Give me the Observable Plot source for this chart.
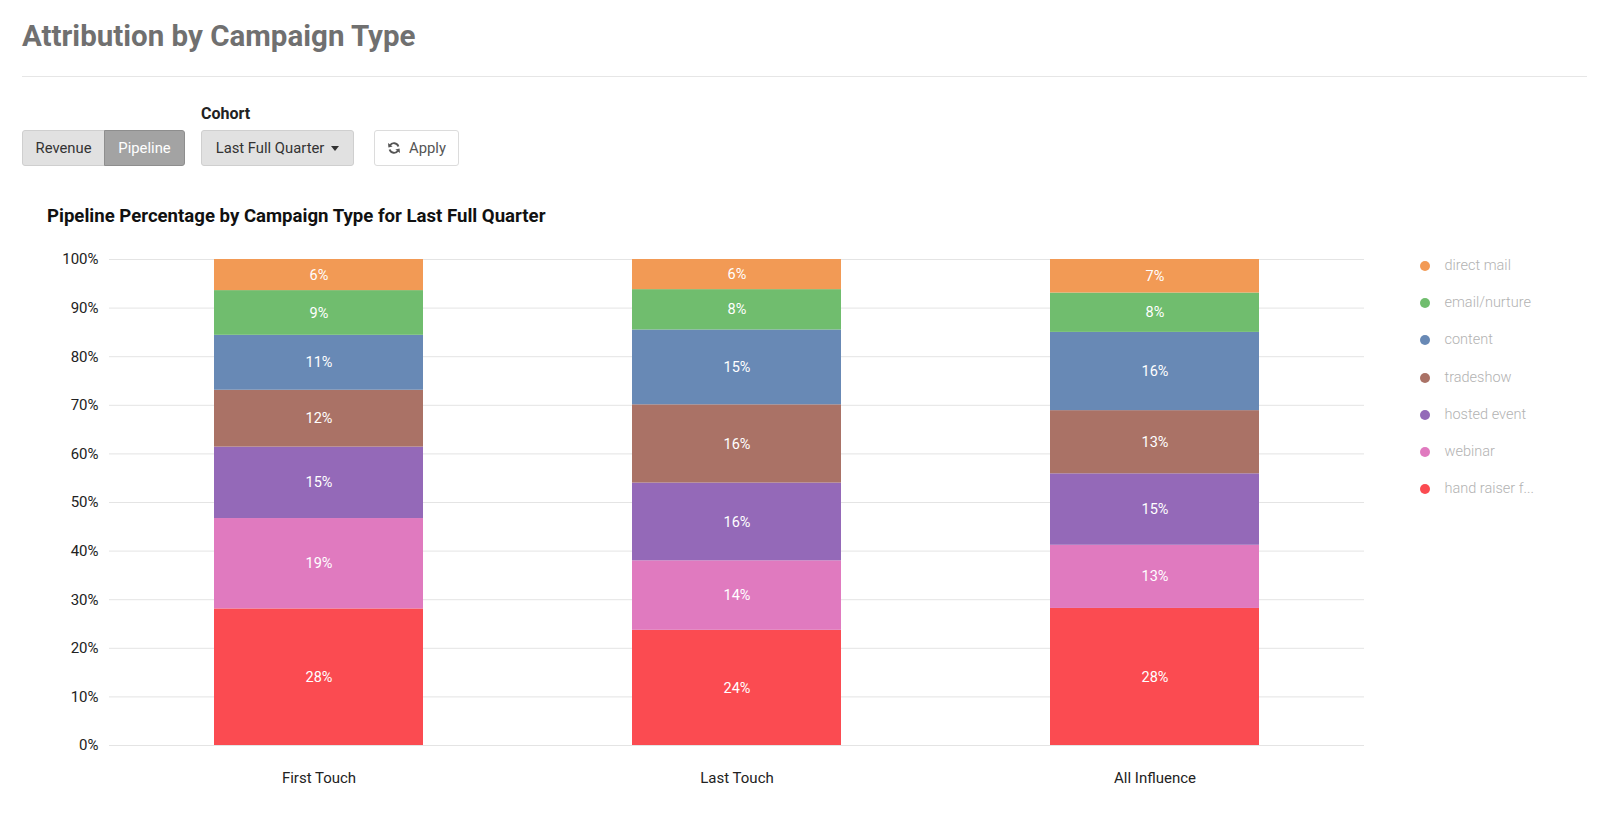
<!DOCTYPE html>
<html>
<head>
<meta charset="utf-8">
<script src="https://cdn.jsdelivr.net/npm/d3@7"></script>
<script src="https://cdn.jsdelivr.net/npm/@observablehq/plot@0.6"></script>
<style>
  html, body { margin: 0; padding: 0; background: #fff; font-family: Roboto, "Noto Sans", sans-serif; }
  #page { position: relative; width: 1600px; height: 815px; overflow: hidden; }
  .title { position: absolute; left: 22px; top: 18px; font-size: 29.5px; font-weight: 700; color: #707070; line-height: 36px; }
  .rule { position: absolute; left: 22px; top: 76px; width: 1565px; height: 1px; background: #e6e6e6; }
  .cohort { position: absolute; left: 201px; top: 104px; font-size: 16px; line-height: 20px; font-weight: 700; color: #222; }
  .btn { position: absolute; top: 130px; height: 36px; box-sizing: border-box; font-size: 14.8px; color: #333;
         display: flex; align-items: center; justify-content: center; border: 1px solid #cfcfcf; }
  .rev { left: 22px; width: 83px; background: #e1e1e1; border-radius: 3px 0 0 3px; }
  .pipe { left: 104px; width: 81px; background: #a3a3a3; color: #fff; border-color: #8e8e8e; border-radius: 0 3px 3px 0; }
  .drop { left: 201px; width: 153px; background: #e1e1e1; border-radius: 3px; }
  .caret { display: inline-block; width: 0; height: 0; margin-left: 7px; border-left: 4.5px solid transparent; border-right: 4.5px solid transparent; border-top: 5px solid #333; }
  .apply { left: 374px; width: 85px; background: #fff; border-color: #dcdcdc; border-radius: 3px; color: #555; }
  .apply svg { margin-right: 8px; }
  .ctitle { position: absolute; left: 47px; top: 205px; font-size: 18.6px; line-height: 22px; font-weight: 700; color: #111; }
  #chart { position: absolute; left: 0; top: 240px; }
  #legend { position: absolute; left: 1420px; top: 257px; }
  .li { height: 37.2px; display: flex; align-items: flex-start; font-size: 14.5px; line-height: 17px; font-weight: 300; color: #b2b2b2; }
  .dot { width: 10px; height: 10px; border-radius: 50%; margin: 4px 14.5px 0 0; }
</style>
</head>
<body>
<div id="page">
  <div class="title">Attribution by Campaign Type</div>
  <div class="rule"></div>
  <div class="cohort">Cohort</div>
  <div class="btn rev">Revenue</div>
  <div class="btn pipe">Pipeline</div>
  <div class="btn drop">Last Full Quarter<span class="caret"></span></div>
  <div class="btn apply"><svg width="14" height="14" viewBox="0 0 16 16">
    <path d="M13 6.2A5.3 5.3 0 0 0 3.4 5" fill="none" stroke="#555" stroke-width="2.2"/>
    <path d="M1.2 2.2 L1.6 7.4 L6.4 6.2 Z" fill="#555"/>
    <path d="M3 9.8A5.3 5.3 0 0 0 12.6 11" fill="none" stroke="#555" stroke-width="2.2"/>
    <path d="M14.8 13.8 L14.4 8.6 L9.6 9.8 Z" fill="#555"/>
  </svg>Apply</div>
  <div class="ctitle">Pipeline Percentage by Campaign Type for Last Full Quarter</div>
  <div id="chart"></div>
  <div id="legend"></div>
</div>
<script>
// Data
const touchModels = ["First Touch", "Last Touch", "All Influence"];
const campaignTypes = ["hand raiser form", "webinar", "hosted event", "tradeshow", "content", "email/nurture", "direct mail"];
const legendLabels = ["direct mail", "email/nurture", "content", "tradeshow", "hosted event", "webinar", "hand raiser f..."];
const colors = ["#fb4b51", "#e07abf", "#9469b8", "#aa7266", "#6889b5", "#70bd6e", "#f29a55"];
// percentages per campaign type (same order as campaignTypes)
const firstTouch   = [28.1, 18.6, 14.7, 11.7, 11.3, 9.2, 6.4];
const lastTouch    = [23.7, 14.3, 16.0, 16.1, 15.4, 8.3, 6.2];
const allInfluence = [28.2, 13.0, 14.7, 13.0, 16.1, 8.1, 6.9];
const yTicks = [0, 10, 20, 30, 40, 50, 60, 70, 80, 90, 100];

const series = [firstTouch, lastTouch, allInfluence];
const rows = [];
touchModels.forEach((m, i) => {
  campaignTypes.forEach((c, j) => rows.push({model: m, type: c, value: series[i][j]}));
});

const chart = Plot.plot({
  width: 1400,
  height: 565,
  marginLeft: 109,
  marginRight: 36,
  marginTop: 19,
  marginBottom: 60,
  style: {fontFamily: "Roboto, sans-serif", fontSize: "15px", color: "#222", background: "#fff"},
  x: {domain: touchModels, paddingInner: 0.5, paddingOuter: 0.25, label: null},
  y: {domain: [0, 100], ticks: yTicks, label: null},
  color: {domain: campaignTypes, range: colors},
  marks: [
    Plot.gridY(yTicks, {stroke: "#e4e4e4", strokeOpacity: 1, strokeWidth: 1}),
    Plot.barY(rows, Plot.stackY({x: "model", y: "value", fill: "type", order: campaignTypes})),
    Plot.text(rows, Plot.stackY({x: "model", y: "value", z: "type", order: campaignTypes,
      text: d => Math.round(d.value) + "%", fill: "#fff", fontSize: 14.5})),
    Plot.axisX({tickSize: 0, tickPadding: 27, fontSize: 15, fill: "#222"}),
    Plot.axisY({ticks: yTicks, tickFormat: d => d + "%", tickSize: 0, tickPadding: 11, fontSize: 15, fill: "#222"})
  ]
});
document.getElementById("chart").appendChild(chart);

const legend = document.getElementById("legend");
legendLabels.forEach((lab, i) => {
  const idx = campaignTypes.length - 1 - i;
  const row = document.createElement("div");
  row.className = "li";
  row.innerHTML = `<span class="dot" style="background:${colors[idx]}"></span><span>${lab}</span>`;
  legend.appendChild(row);
});
</script>
</body>
</html>
